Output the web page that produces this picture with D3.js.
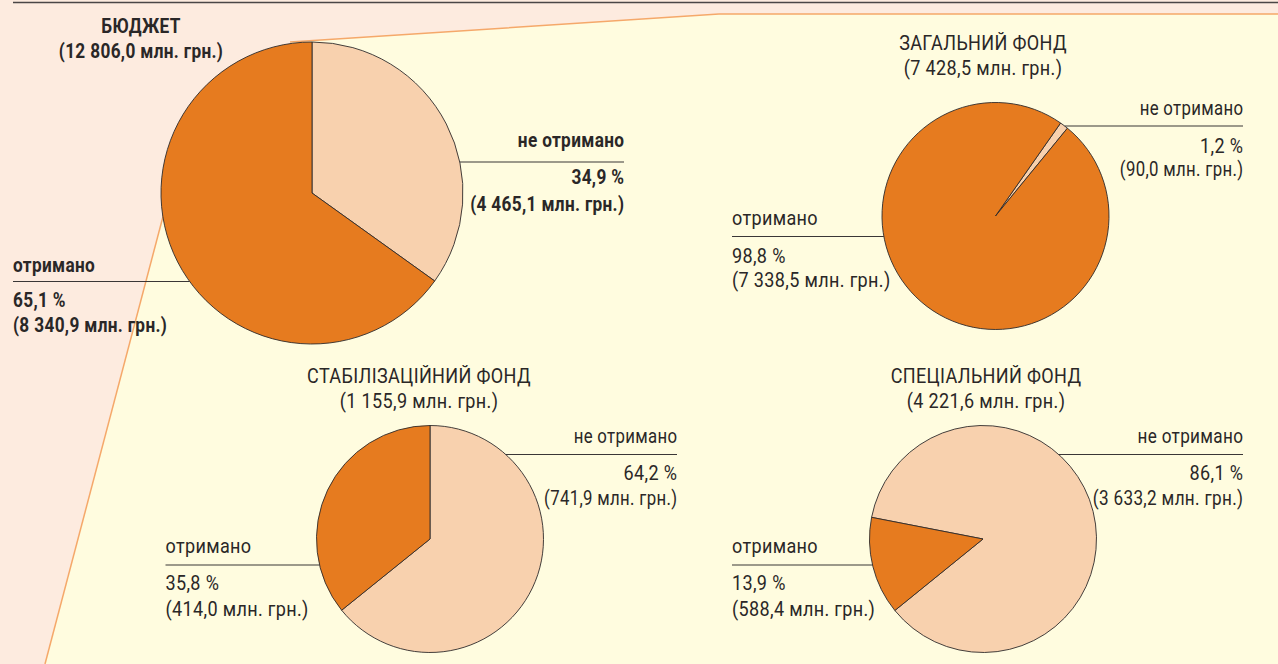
<!DOCTYPE html>
<html><head><meta charset="utf-8">
<script src="https://cdn.jsdelivr.net/npm/d3@7"></script>
<style>html,body{margin:0;padding:0;background:#fdebdf;overflow:hidden}</style>
</head><body>
<svg id="chart" width="1278" height="664"></svg>
<script>
// ---- data ----
const pieTitles = ["БЮДЖЕТ", "ЗАГАЛЬНИЙ ФОНД", "СТАБІЛІЗАЦІЙНИЙ ФОНД", "СПЕЦІАЛЬНИЙ ФОНД"];
const pieTotals = [12806.0, 7428.5, 1155.9, 4221.6];
const categories = ["не отримано", "отримано"];
const notReceivedPct = [34.9, 1.2, 64.2, 86.1];
const receivedPct = [65.1, 98.8, 35.8, 13.9];
const notReceivedAmt = [4465.1, 90.0, 741.9, 3633.2];
const receivedAmt = [8340.9, 7338.5, 414.0, 588.4];
const unit = "млн. грн.";

// ---- layout ----
const layout = [
  {cx:312, cy:193, r:151, start:0, bold:true, titleX:141, titleY:[33,58], rightSquash:1,
   right:{x:624, y:[147,162,184,210.5]}, left:{x:13, y:[271.5,281.5,306.5,331.5]}},
  {cx:995.5, cy:216, r:113.5, start:35, bold:false, titleX:983, titleY:[50,75], rightSquash:0.93,
   right:{x:1243, y:[115,126,152.5,176]}, left:{x:732, y:[225,236.5,262.5,287]}},
  {cx:430, cy:539, r:113.5, start:0, bold:false, titleX:419, titleY:[383,408], rightSquash:0.93,
   right:{x:677, y:[443,454.5,480,505]}, left:{x:165.5, y:[552.5,565,590,616]}},
  {cx:983, cy:539, r:113.5, start:-79, bold:false, titleX:986, titleY:[383,408], rightSquash:0.95,
   right:{x:1243, y:[443,454.5,480,505]}, left:{x:732, y:[552.5,565,590,616]}}
];

const W = 1278, H = 664;
const colors = {pink:"#fdebdf", yellow:"#fffcdf", border:"#f5a86a", dark:"#e67b1f", light:"#f8d1ae", ink:"#2a2727"};
const FONT = "Roboto, 'Liberation Sans', sans-serif";
const FS = 20.5;
const LS = 0.4;

const loc = d3.formatLocale({decimal:",", thousands:"\u00a0", grouping:[3], currency:["",""]});
const fmtAmt = loc.format(",.1f");
const fmtPct = loc.format(".1f");

const svg = d3.select("#chart");
svg.append("rect").attr("width", W).attr("height", H).attr("fill", colors.pink);

// condensed look: calibrate horizontal scale so sample strings match the reference widths
function measure(s, weight) {
  const t = svg.append("text").attr("font-family", FONT).attr("font-size", FS)
    .attr("font-weight", weight).attr("letter-spacing", LS).text(s);
  const w = t.node().getComputedTextLength() - LS; t.remove(); return w;
}
const sxReg = 143 / measure(`(${fmtAmt(receivedAmt[3])} ${unit})`, "normal");
const sxBold = 154 / measure(`(${fmtAmt(notReceivedAmt[0])} ${unit})`, "bold");

// yellow zoom panel
const panel = [[290,42],[719,14],[W,14],[W,H],[45,H],[170,190],[312,193]];
svg.append("path").attr("d", d3.line()(panel)).attr("fill", colors.yellow);
svg.append("path").attr("d", d3.line()([[290,42],[719,14],[W,14]]))
  .attr("fill","none").attr("stroke", colors.border).attr("stroke-width",1.5);
svg.append("path").attr("d", d3.line()([[170,190],[45,H]]))
  .attr("fill","none").attr("stroke", colors.border).attr("stroke-width",1.5);
svg.append("line").attr("x1",13).attr("x2",W).attr("y1",2.5).attr("y2",2.5)
  .attr("stroke","#4a4646").attr("stroke-width",1.6);

const color = d3.scaleOrdinal().domain(categories).range([colors.light, colors.dark]);

layout.forEach((L, i) => {
  const values = [notReceivedPct[i], receivedPct[i]];
  const start = L.start * Math.PI / 180;
  const pie = d3.pie().sort(null).startAngle(start).endAngle(start + 2*Math.PI);
  const arc = d3.arc().innerRadius(0).outerRadius(L.r);
  const g = svg.append("g").attr("transform", `translate(${L.cx},${L.cy})`);
  g.selectAll("path").data(pie(values)).join("path")
    .attr("d", arc)
    .attr("fill", (d, j) => color(categories[j]))
    .attr("stroke", "#2f2b2b").attr("stroke-width", 0.9).attr("stroke-linejoin","round");

  const weight = L.bold ? "bold" : "normal";
  const baseSx = L.bold ? sxBold : sxReg;
  const txt = (x, y, s, anchor, squash = 1) => {
    const sx = baseSx * squash;
    const dx = anchor === "end" ? LS : 0;   // trailing letter-spacing compensation
    return svg.append("text")
      .attr("transform", `translate(${x + dx * sx},${y}) scale(${sx},1)`).attr("text-anchor", anchor)
      .attr("font-family", FONT).attr("font-size", FS).attr("font-weight", weight)
      .attr("letter-spacing", LS)
      .attr("fill", colors.ink).text(s);
  };

  // title
  txt(L.titleX, L.titleY[0], pieTitles[i], "middle");
  txt(L.titleX, L.titleY[1], `(${fmtAmt(pieTotals[i])} ${unit})`, "middle");

  const edgeX = (y, side) => L.cx + side * Math.sqrt(Math.max(0, L.r*L.r - (y - L.cy)*(y - L.cy)));

  // right label: не отримано
  const R = L.right, q = L.rightSquash;
  txt(R.x, R.y[0], categories[0], "end", q);
  svg.append("line").attr("x1", edgeX(R.y[1], 1)).attr("x2", R.x).attr("y1", R.y[1]).attr("y2", R.y[1])
    .attr("stroke", "#3a3636").attr("stroke-width", 1.2);
  txt(R.x, R.y[2], `${fmtPct(notReceivedPct[i])} %`, "end");
  txt(R.x, R.y[3], `(${fmtAmt(notReceivedAmt[i])} ${unit})`, "end", q);

  // left label: отримано
  const Lf = L.left;
  txt(Lf.x, Lf.y[0], categories[1], "start");
  svg.append("line").attr("x1", Lf.x).attr("x2", edgeX(Lf.y[1], -1)).attr("y1", Lf.y[1]).attr("y2", Lf.y[1])
    .attr("stroke", "#3a3636").attr("stroke-width", 1.2);
  txt(Lf.x, Lf.y[2], `${fmtPct(receivedPct[i])} %`, "start");
  txt(Lf.x, Lf.y[3], `(${fmtAmt(receivedAmt[i])} ${unit})`, "start");
});
</script>
</body></html>
